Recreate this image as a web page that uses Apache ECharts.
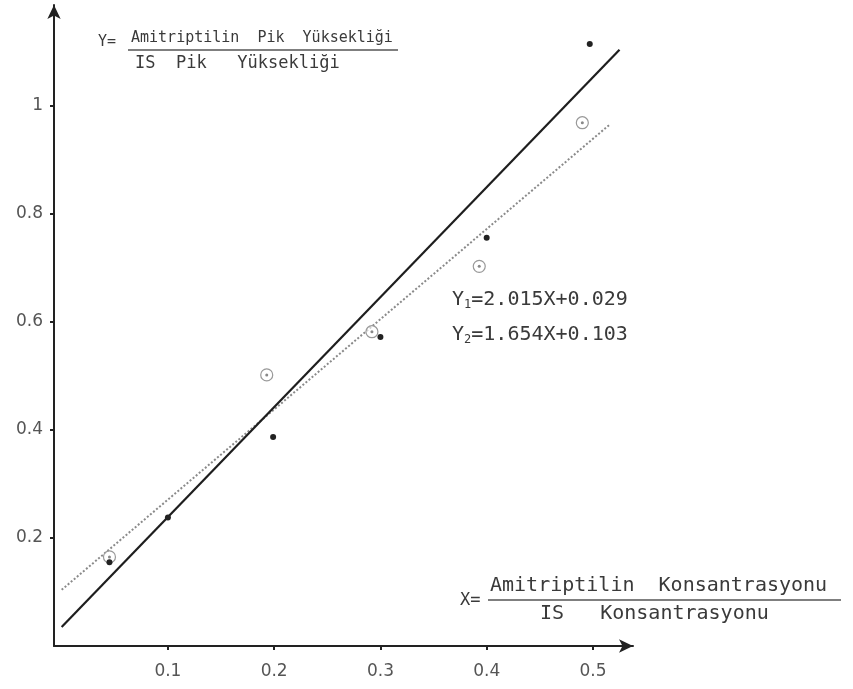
<!DOCTYPE html>
<html>
<head>
<meta charset="utf-8">
<script src="https://cdn.jsdelivr.net/npm/echarts@6/dist/echarts.min.js"></script>
<style>
  html, body { margin: 0; padding: 0; background: #fff; }
  #chart { width: 853px; height: 689px; }
</style>
</head>
<body>
<div id="chart"></div>
<script>
"use strict";

// tick labels
var xTicks = [0.1, 0.2, 0.3, 0.4, 0.5];
var xTickLabels = ["0.1", "0.2", "0.3", "0.4", "0.5"];
var yTicks = [0.2, 0.4, 0.6, 0.8, 1];
var yTickLabels = ["0.2", "0.4", "0.6", "0.8", "1"];

// measured points (Y1, filled dots)
var y1X = [0.045, 0.1, 0.199, 0.3, 0.4, 0.497];
var y1Y = [0.155, 0.238, 0.387, 0.572, 0.756, 1.115];

// measured points (Y2, circled)
var y2X = [0.045, 0.193, 0.292, 0.393, 0.49];
var y2Y = [0.165, 0.502, 0.582, 0.703, 0.969];

// regression lines, end points
var line1X = [0, 0.525];
var line1Y = [0.035, 1.104];
var line2X = [0, 0.516];
var line2Y = [0.104, 0.966];

function pairs(xs, ys) {
	var out = [];
	for (var i = 0; i < xs.length; i++) {
		out.push([xs[i], ys[i]]);
	}
	return out;
}

var textColor = "#3a3a3a";
var font = "DejaVu Sans";
var mono = "DejaVu Sans Mono";

var chart = echarts.init(document.getElementById("chart"));

var option = {
	backgroundColor: "#fff",
	animation: false,
	grid: { left: 54, right: 220, top: 5, bottom: 43 },
	xAxis: {
		type: "value",
		min: -0.0072,
		max: 0.5377,
		splitLine: { show: false },
		axisLine: {
			onZero: false,
			symbol: ["none", "arrow"],
			symbolSize: [10, 14],
			lineStyle: { color: "#222", width: 2 }
		},
		axisTick: {
			customValues: xTicks,
			length: 4,
			lineStyle: { color: "#222", width: 2 }
		},
		axisLabel: {
			customValues: xTicks,
			margin: 17,
			color: "#555",
			fontFamily: font,
			fontSize: 17,
			formatter: function (v) {
				return xTickLabels[xTicks.indexOf(v)];
			}
		}
	},
	yAxis: {
		type: "value",
		min: 0,
		max: 1.187,
		splitLine: { show: false },
		axisLine: {
			onZero: false,
			symbol: ["none", "arrow"],
			symbolSize: [10, 14],
			lineStyle: { color: "#222", width: 2 }
		},
		axisTick: {
			customValues: yTicks,
			length: 4,
			lineStyle: { color: "#222", width: 2 }
		},
		axisLabel: {
			customValues: yTicks,
			margin: 11,
			color: "#555",
			fontFamily: font,
			fontSize: 17,
			formatter: function (v) {
				return yTickLabels[yTicks.indexOf(v)];
			}
		}
	},
	series: [
		{
			name: "Y1 line",
			type: "line",
			data: pairs(line1X, line1Y),
			symbol: "none",
			lineStyle: { color: "#1e1e1e", width: 2.2 },
			z: 3
		},
		{
			name: "Y2 line",
			type: "line",
			data: pairs(line2X, line2Y),
			symbol: "none",
			lineStyle: { color: "#8a8a8a", width: 2, type: "dotted" },
			z: 2
		},
		{
			name: "Y2",
			type: "scatter",
			data: pairs(y2X, y2Y),
			symbol: "circle",
			symbolSize: 12,
			itemStyle: { color: "rgba(255,255,255,0.6)", borderColor: "#999", borderWidth: 1.2, opacity: 1 },
			z: 4
		},
		{
			name: "Y2 centre",
			type: "scatter",
			data: pairs(y2X, y2Y),
			symbolSize: 3,
			itemStyle: { color: "#888", opacity: 1 },
			z: 5
		},
		{
			name: "Y1",
			type: "scatter",
			data: pairs(y1X, y1Y),
			symbol: "circle",
			symbolSize: 6,
			itemStyle: { color: "#222", opacity: 1 },
			z: 6
		}
	],
	graphic: [
		// Y = Amitriptilin Pik Yuksekligi / IS Pik Yuksekligi
		{ type: "text", left: 98, top: 35, style: { text: "Y=", font: "15px " + mono, fill: textColor } },
		{ type: "text", left: 131, top: 31, style: { text: "Amitriptilin  Pik  Yüksekliği", font: "15px " + mono, fill: textColor } },
		{ type: "line", shape: { x1: 128, y1: 50, x2: 398, y2: 50 }, style: { stroke: "#555", lineWidth: 1.5 } },
		{ type: "text", left: 135, top: 55, style: { text: "IS  Pik   Yüksekliği", font: "17px " + mono, fill: textColor } },

		// X = Amitriptilin Konsantrasyonu / IS Konsantrasyonu
		{ type: "text", left: 460, top: 592, style: { text: "X=", font: "17px " + mono, fill: textColor } },
		{ type: "text", left: 490, top: 576, style: { text: "Amitriptilin  Konsantrasyonu", font: "20px " + mono, fill: textColor } },
		{ type: "line", shape: { x1: 488, y1: 600, x2: 841, y2: 600 }, style: { stroke: "#555", lineWidth: 1.5 } },
		{ type: "text", left: 540, top: 604, style: { text: "IS   Konsantrasyonu", font: "20px " + mono, fill: textColor } },

		// regression equations
		{
			type: "text", left: 452, top: 290,
			style: {
				text: "{m|Y}{s|1}{m|=2.015X+0.029}",
				rich: {
					m: { font: "20px " + mono, fill: textColor },
					s: { font: "12px " + mono, fill: textColor, verticalAlign: "bottom", padding: [10, 0, 0, 0] }
				}
			}
		},
		{
			type: "text", left: 452, top: 325,
			style: {
				text: "{m|Y}{s|2}{m|=1.654X+0.103}",
				rich: {
					m: { font: "20px " + mono, fill: textColor },
					s: { font: "12px " + mono, fill: textColor, verticalAlign: "bottom", padding: [10, 0, 0, 0] }
				}
			}
		}
	]
};

chart.setOption(option);
</script>
</body>
</html>
